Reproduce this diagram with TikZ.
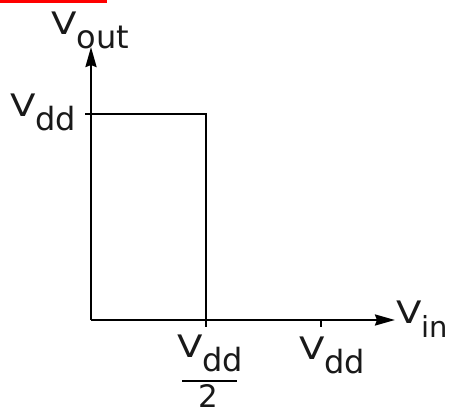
\documentclass[tikz,border=0pt]{standalone}
\usepackage{fontspec}
\setmainfont{DejaVu Sans}
\usetikzlibrary{arrows.meta}
\newcommand{\sublab}[3][32]{\fontsize{31}{31}\selectfont\scalebox{1.2}[1]{#2}\raisebox{-14pt}{\fontsize{#1}{#1}\selectfont #3}}
\tikzset{
  axis/.style={line width=2.4pt, -{Stealth[length=20pt,width=11pt,inset=2pt]}},
  curve/.style={line width=2.4pt},
  tickline/.style={line width=2.2pt},
  lab/.style={inner sep=0pt, anchor=base west, text=black!90},
}
\begin{document}
\begin{tikzpicture}[x=1pt,y=1pt]
\useasboundingbox (0,0) rectangle (449,415);
\fill[red] (0,412) rectangle (107,415);
% coordinates
\coordinate (O) at (91,95);
\coordinate (ytop) at (91,368);
\coordinate (xend) at (395,95);
\coordinate (ltick) at (85,301);
\coordinate (vddc) at (206,301);
\coordinate (halfbot) at (206,88);
\coordinate (vddax) at (321,95);
\coordinate (vddbot) at (321,88);
\coordinate (barl) at (182,34);
\coordinate (barr) at (237,34);
% axes
\draw[axis] (O) -- (ytop);
\draw[axis] (O) -- (xend);
% transfer curve
\draw[curve] (ltick) -- (vddc) -- (halfbot);
\draw[tickline] (vddax) -- (vddbot);
\draw[tickline] (barl) -- (barr);
% labels
\node[lab] (vout) at (51,380) {\sublab{V}{out}};
\node[lab] (vddy) at (10,298) {\sublab{V}{dd}};
\node[lab] (vin) at (396,92) {\sublab[29]{V}{in}};
\node[lab] (vddh) at (177,58) {\sublab{V}{dd}};
\node[lab] (vddx) at (299,56) {\sublab{V}{dd}};
\node[inner sep=0pt, anchor=base, text=black!90] (two) at (208,8) {\fontsize{31}{31}\selectfont 2};
\end{tikzpicture}
\end{document}
